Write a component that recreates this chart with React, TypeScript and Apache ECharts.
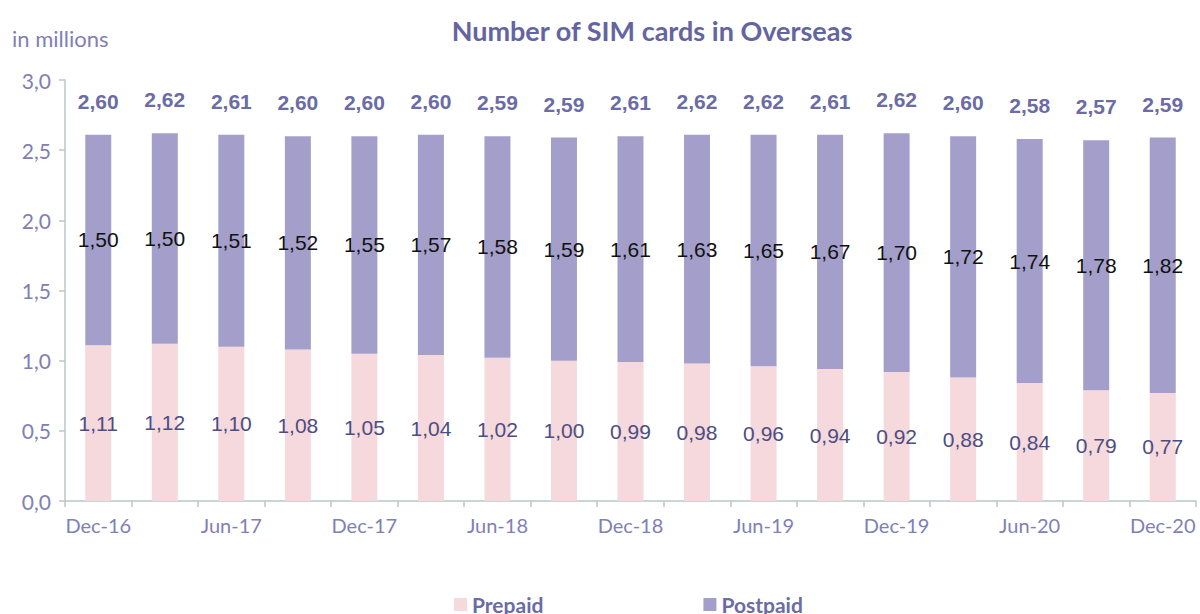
import React, { useEffect, useRef } from "react";
import * as echarts from "echarts";

const categories = [
  "Dec-16", "Mar-17", "Jun-17", "Sep-17", "Dec-17", "Mar-18", "Jun-18", "Sep-18",
  "Dec-18", "Mar-19", "Jun-19", "Sep-19", "Dec-19", "Mar-20", "Jun-20", "Sep-20", "Dec-20",
];
const prepaid = [1.11, 1.12, 1.10, 1.08, 1.05, 1.04, 1.02, 1.00, 0.99, 0.98, 0.96, 0.94, 0.92, 0.88, 0.84, 0.79, 0.77];
const postpaid = [1.50, 1.50, 1.51, 1.52, 1.55, 1.57, 1.58, 1.59, 1.61, 1.63, 1.65, 1.67, 1.70, 1.72, 1.74, 1.78, 1.82];
const totals = [2.60, 2.62, 2.61, 2.60, 2.60, 2.60, 2.59, 2.59, 2.61, 2.62, 2.62, 2.61, 2.62, 2.60, 2.58, 2.57, 2.59];

const fmt2 = (v: number) => v.toFixed(2).replace(".", ",");
const fmt1 = (v: number) => v.toFixed(1).replace(".", ",");

const FONT = "Lato, 'Open Sans', sans-serif";
const ARIAL = "'Liberation Sans', Arial, sans-serif";
const AXIS_TEXT = "#8080b4";
const AXIS_LINE = "#b9c9c9";

export default function App() {
  const ref = useRef<HTMLDivElement>(null);
  useEffect(() => {
    document.body.style.margin = "0";
    if (!ref.current) return;
    const chart = echarts.init(ref.current, undefined, { renderer: "svg" });
    chart.setOption({
      animation: false,
      title: {
        text: "Number of SIM cards in Overseas",
        left: 647,
        textAlign: "center",
        top: 12,
        textStyle: { fontFamily: FONT, fontSize: 27, fontWeight: "bold", color: "#6464a0" },
      },
      graphic: [
        {
          type: "text",
          left: 12,
          top: 27,
          style: { text: "in millions", fontFamily: FONT, fontSize: 22, fill: AXIS_TEXT },
        },
      ],
      legend: {
        bottom: -6,
        left: 449,
        itemGap: 160,
        itemWidth: 13,
        itemHeight: 13,
        icon: "rect",
        textStyle: { fontFamily: FONT, fontSize: 21, fontWeight: "bold", color: "#6b6ba5" },
        data: ["Prepaid", "Postpaid"],
      },
      grid: { left: 65, right: 4, top: 80, bottom: 113, containLabel: false },
      xAxis: {
        type: "category",
        data: categories,
        boundaryGap: true,
        axisLine: { lineStyle: { color: AXIS_LINE, width: 1.5 } },
        axisTick: { show: true, interval: 0, length: 6, lineStyle: { color: AXIS_LINE, width: 1.5 } },
        axisLabel: { interval: 1, color: AXIS_TEXT, fontFamily: FONT, fontSize: 20, margin: 14 },
      },
      yAxis: {
        type: "value",
        min: 0,
        max: 3,
        interval: 0.5,
        splitLine: { show: false },
        axisLine: { show: true, lineStyle: { color: AXIS_LINE, width: 1.5 } },
        axisTick: { show: true, length: 6, lineStyle: { color: AXIS_LINE, width: 1.5 } },
        axisLabel: { formatter: (v: number) => fmt1(v), color: AXIS_TEXT, fontFamily: FONT, fontSize: 21, margin: 14 },
      },
      series: [
        {
          name: "Prepaid",
          type: "bar",
          stack: "sim",
          barWidth: 26,
          data: prepaid,
          itemStyle: { color: "#f5d9dd" },
          label: {
            show: true,
            position: "inside",
            formatter: (p: any) => fmt2(p.value),
            color: "#4d4d82",
            fontFamily: ARIAL,
            fontSize: 21,
            overflow: "none",
          },
        },
        {
          name: "Postpaid",
          type: "bar",
          stack: "sim",
          barWidth: 26,
          data: postpaid,
          itemStyle: { color: "#a39fca" },
          label: {
            show: true,
            position: "inside",
            formatter: (p: any) => fmt2(p.value),
            color: "#111111",
            fontFamily: ARIAL,
            fontSize: 21,
            overflow: "none",
          },
        },
        {
          name: "Total",
          type: "bar",
          stack: "sim",
          barWidth: 26,
          data: totals.map(() => 0),
          itemStyle: { color: "transparent" },
          label: {
            show: true,
            position: "top",
            distance: 23,
            formatter: (p: any) => fmt2(totals[p.dataIndex]),
            color: "#6b6ba5",
            fontFamily: ARIAL,
            fontSize: 21,
            fontWeight: "bold",
          },
        },
      ],
    });
    return () => chart.dispose();
  }, []);
  return <div ref={ref} style={{ width: 1200, height: 614 }} />;
}
